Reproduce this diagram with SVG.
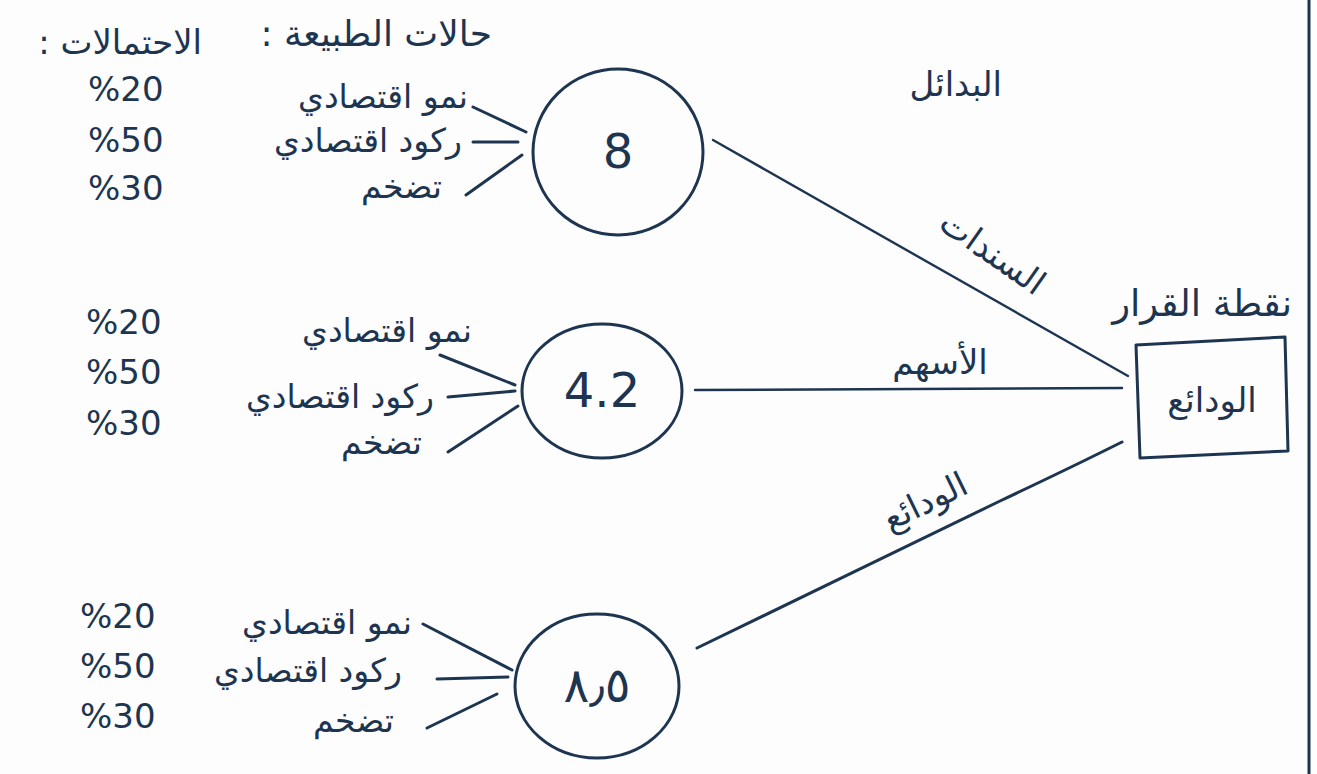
<svg xmlns="http://www.w3.org/2000/svg" width="1317" height="774" viewBox="0 0 1317 774">
<style>
.ink{stroke:#1d3550;stroke-width:3;fill:none;stroke-linecap:round;stroke-linejoin:round}
.thin{stroke:#1d3550;stroke-width:2.4;fill:none;stroke-linecap:round}
text{font-family:"DejaVu Sans","Noto Sans",sans-serif;fill:#1d3550}
.ar{font-size:34px;direction:rtl}
.lb{font-size:33px;direction:rtl}
.pc{font-size:34px;direction:ltr;unicode-bidi:bidi-override}
.num{font-size:48px;text-anchor:middle}
</style>
<rect width="1317" height="774" fill="#fdfdfd"/>
<line x1="1309" y1="0" x2="1309" y2="774" class="ink"/>

<g id="headers">
<text class="ar" x="202" y="54" text-anchor="start">الاحتمالات :</text>
<text class="ar" x="492" y="46" text-anchor="start" style="font-size:36px">حالات الطبيعة :</text>
<text class="ar" x="1002" y="96" text-anchor="start">البدائل</text>
<text class="ar" x="1292" y="316" text-anchor="start" style="font-size:37px">نقطة القرار</text>
</g>

<g id="connectors">
<line class="thin" x1="713" y1="140" x2="1128" y2="376"/>
<line class="thin" x1="695" y1="390" x2="1122" y2="388"/>
<path class="ink" d="M697 648 L1000 501 Q1070 468 1122 442"/>
<line class="ink" x1="473" y1="107" x2="526" y2="132"/>
<line class="ink" x1="473" y1="142" x2="518" y2="142"/>
<line class="ink" x1="466" y1="195" x2="522" y2="155"/>
<line class="ink" x1="440" y1="355" x2="515" y2="385"/>
<line class="ink" x1="448" y1="397" x2="515" y2="391"/>
<line class="ink" x1="448" y1="452" x2="518" y2="406"/>
<line class="ink" x1="423" y1="624" x2="512" y2="670"/>
<line class="ink" x1="437" y1="679" x2="508" y2="677"/>
<line class="ink" x1="427" y1="728" x2="497" y2="694"/>
</g>

<g id="edge-labels">
<text class="ar" x="0" y="0" text-anchor="middle" transform="translate(986,262) rotate(35)">السندات</text>
<text class="ar" x="940" y="374" text-anchor="middle">الأسهم</text>
<text class="ar" x="0" y="0" text-anchor="middle" transform="translate(930,512) rotate(-26)">الودائع</text>
</g>

<g id="decision">
<polygon class="ink" points="1136,345 1285,337 1288,451 1140,458"/>
<text class="ar" x="1212" y="412" text-anchor="middle">الودائع</text>
</g>

<g id="chance1">
<ellipse class="ink" cx="618" cy="152" rx="85" ry="83"/>
<text class="num" x="618" y="168">8</text>
</g>
<g id="chance2">
<ellipse class="ink" cx="602" cy="391" rx="80" ry="67"/>
<text class="num" x="602" y="407">4.2</text>
</g>
<g id="chance3">
<ellipse class="ink" cx="597" cy="686" rx="82" ry="72"/>
<text class="num" x="597" y="702">٨٫٥</text>
</g>

<g id="states1">
<text class="pc" x="88" y="101">%20</text>
<text class="pc" x="88" y="152">%50</text>
<text class="pc" x="88" y="200">%30</text>
<text class="lb" x="468" y="108" text-anchor="start">نمو اقتصادي</text>
<text class="lb" x="462" y="152" text-anchor="start">ركود اقتصادي</text>
<text class="lb" x="442" y="198" text-anchor="start">تضخم</text>
</g>
<g id="states2">
<text class="pc" x="86" y="334">%20</text>
<text class="pc" x="86" y="384">%50</text>
<text class="pc" x="86" y="435">%30</text>
<text class="lb" x="472" y="342" text-anchor="start">نمو اقتصادي</text>
<text class="lb" x="434" y="408" text-anchor="start">ركود اقتصادي</text>
<text class="lb" x="422" y="454" text-anchor="start">تضخم</text>
</g>
<g id="states3">
<text class="pc" x="80" y="628">%20</text>
<text class="pc" x="80" y="678">%50</text>
<text class="pc" x="80" y="728">%30</text>
<text class="lb" x="412" y="634" text-anchor="start">نمو اقتصادي</text>
<text class="lb" x="402" y="682" text-anchor="start">ركود اقتصادي</text>
<text class="lb" x="394" y="732" text-anchor="start">تضخم</text>
</g>
</svg>
